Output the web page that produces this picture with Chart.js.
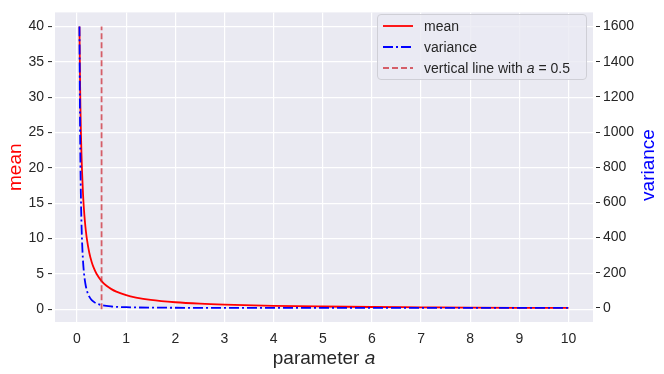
<!DOCTYPE html>
<html>
<head>
<meta charset="utf-8">
<script src="https://cdn.jsdelivr.net/npm/chart.js@4"></script>
<style>
    body { margin: 0; background: #fff; }
    .wrap { position: relative; width: 664px; height: 374px; font-family: "Liberation Sans", Arial, sans-serif; }
    .legend {
        position: absolute; left: 377px; top: 14px; width: 210px; height: 66px;
        box-sizing: border-box; padding-top: 0.5px;
        background: rgba(234, 234, 242, 0.8); border: 1px solid #cfcfd6; border-radius: 4px;
        font-size: 14px; color: #262626;
    }
    .legend .row { height: 21px; line-height: 21px; display: flex; align-items: center; }
    .legend svg { margin-left: 5px; margin-right: 11px; }
    .xtitle {
        position: absolute; left: 55px; width: 538px; top: 347px; text-align: center;
        font-size: 19px; line-height: 22px; color: #262626;
    }
    .ytitle2 {
        position: absolute; left: 598px; width: 100px; top: 153.5px; text-align: center;
        font-size: 19px; line-height: 22px; color: #0000ff; transform: rotate(-90deg);
    }
</style>
</head>
<body>
<div class="wrap">
    <canvas id="chart" width="664" height="374"></canvas>
    <div class="legend">
        <div class="row"><svg width="30" height="6"><line x1="0" y1="3" x2="30" y2="3" stroke="#ff0000" stroke-width="1.8"/></svg>mean</div>
        <div class="row"><svg width="30" height="6"><line x1="0" y1="3" x2="30" y2="3" stroke="#0000ff" stroke-width="1.8" stroke-dasharray="10 3 2 3"/></svg>variance</div>
        <div class="row"><svg width="30" height="6"><line x1="0" y1="3" x2="30" y2="3" stroke="rgba(205,40,50,0.72)" stroke-width="1.8" stroke-dasharray="6 3"/></svg>vertical line with&nbsp;<i>a</i>&nbsp;=&nbsp;0.5</div>
    </div>
    <div class="xtitle">parameter <i>a</i></div>
    <div class="ytitle2">variance</div>
</div>
<script>
// values
let aVals = [0.05, 0.06, 0.07, 0.08, 0.09, 0.1, 0.12, 0.14, 0.16, 0.18, 0.2, 0.25, 0.3, 0.35, 0.4, 0.5,
             0.6, 0.7, 0.8, 1.0, 1.2, 1.5, 2, 2.5, 3, 4, 5, 6, 7, 8, 9, 10];
let meanVals = [40, 33.33, 28.57, 25, 22.22, 20, 16.67, 14.29, 12.5, 11.11, 10, 8, 6.67, 5.71, 5, 4,
                3.33, 2.86, 2.5, 2, 1.67, 1.33, 1, 0.8, 0.67, 0.5, 0.4, 0.33, 0.29, 0.25, 0.22, 0.2];
let varianceVals = [1600, 1111, 816, 625, 494, 400, 278, 204, 156, 123, 100, 64, 44, 33, 25, 16,
                    11.1, 8.2, 6.25, 4, 2.78, 1.78, 1, 0.64, 0.44, 0.25, 0.16, 0.11, 0.08, 0.06, 0.05, 0.04];
let vlineX = [0.5, 0.5];
let vlineY = [0, 40];

let xTicks = [0, 1, 2, 3, 4, 5, 6, 7, 8, 9, 10];
let meanTicks = [0, 5, 10, 15, 20, 25, 30, 35, 40];
let varianceTicks = [0, 200, 400, 600, 800, 1000, 1200, 1400, 1600];

let textColor = "#262626";
Chart.defaults.font.family = '"Liberation Sans", Arial, sans-serif';
Chart.defaults.color = textColor;

function fixedTicks(values) {
    return scale => { scale.ticks = values.map(v => ({ value: v })); };
}

// grey plot background
const bgPlugin = {
    id: "plotBg",
    beforeDraw(chart) {
        const a = chart.chartArea, ctx = chart.ctx;
        ctx.save();
        ctx.fillStyle = "#eaeaf2";
        ctx.fillRect(a.left, a.top, a.right - a.left, a.bottom - a.top);
        ctx.restore();
    }
};

new Chart(document.getElementById("chart"), {
    type: "line",
    data: {
        datasets: [{
            label: "mean",
            data: aVals.map((a, i) => ({ x: a, y: meanVals[i] })),
            borderColor: "#ff0000",
            borderWidth: 1.8,
            yAxisID: "y",
            order: 3,
            cubicInterpolationMode: "monotone",
        }, {
            label: "variance",
            data: aVals.map((a, i) => ({ x: a, y: varianceVals[i] })),
            borderColor: "#0000ff",
            borderWidth: 1.8,
            borderDash: [10, 3, 2, 3],
            yAxisID: "y1",
            order: 2,
            cubicInterpolationMode: "monotone",
        }, {
            label: "vertical line with a = 0.5",
            data: vlineX.map((x, i) => ({ x: x, y: vlineY[i] })),
            borderColor: "rgba(205,40,50,0.72)",
            borderWidth: 1.8,
            borderDash: [6, 3],
            yAxisID: "y",
            order: 1,
        }]
    },
    options: {
        responsive: false,
        animation: false,
        layout: { padding: { top: 7 } },
        elements: {
            point: { radius: 0 },
            line: { fill: false },
        },
        plugins: {
            legend: { display: false },
            tooltip: { enabled: false },
        },
        scales: {
            x: {
                type: "linear",
                min: -0.4475,
                max: 10.4975,
                afterBuildTicks: fixedTicks(xTicks),
                afterFit: s => { s.height = 52; },
                border: { display: false },
                grid: { color: "#ffffff", lineWidth: 1.2, drawTicks: false },
                ticks: { padding: 9, font: { size: 14 }, color: textColor, callback: v => String(v) },
            },
            y: {
                position: "left",
                min: -1.79,
                max: 41.99,
                afterBuildTicks: fixedTicks(meanTicks),
                afterFit: s => { s.width = 55; },
                border: { display: false },
                grid: {
                    color: "#ffffff", lineWidth: 1.2,
                    tickColor: textColor, tickWidth: 1, tickLength: 7, tickBorderDash: [4, 100],
                },
                ticks: { padding: 4, font: { size: 14 }, color: textColor, callback: v => String(v) },
                title: { display: true, text: "mean", color: "#ff0000", font: { size: 19 }, padding: { top: 4, bottom: 0 } },
            },
            y1: {
                position: "right",
                min: -80,
                max: 1680,
                afterBuildTicks: fixedTicks(varianceTicks),
                afterFit: s => { s.width = 71; },
                border: { display: false },
                grid: {
                    drawOnChartArea: false,
                    tickColor: textColor, tickWidth: 1, tickLength: 7,
                    tickBorderDash: [4, 100], tickBorderDashOffset: 101,
                },
                ticks: { padding: 3, font: { size: 14 }, color: textColor, callback: v => String(v) },
            },
        },
    },
    plugins: [bgPlugin],
});
</script>
</body>
</html>
